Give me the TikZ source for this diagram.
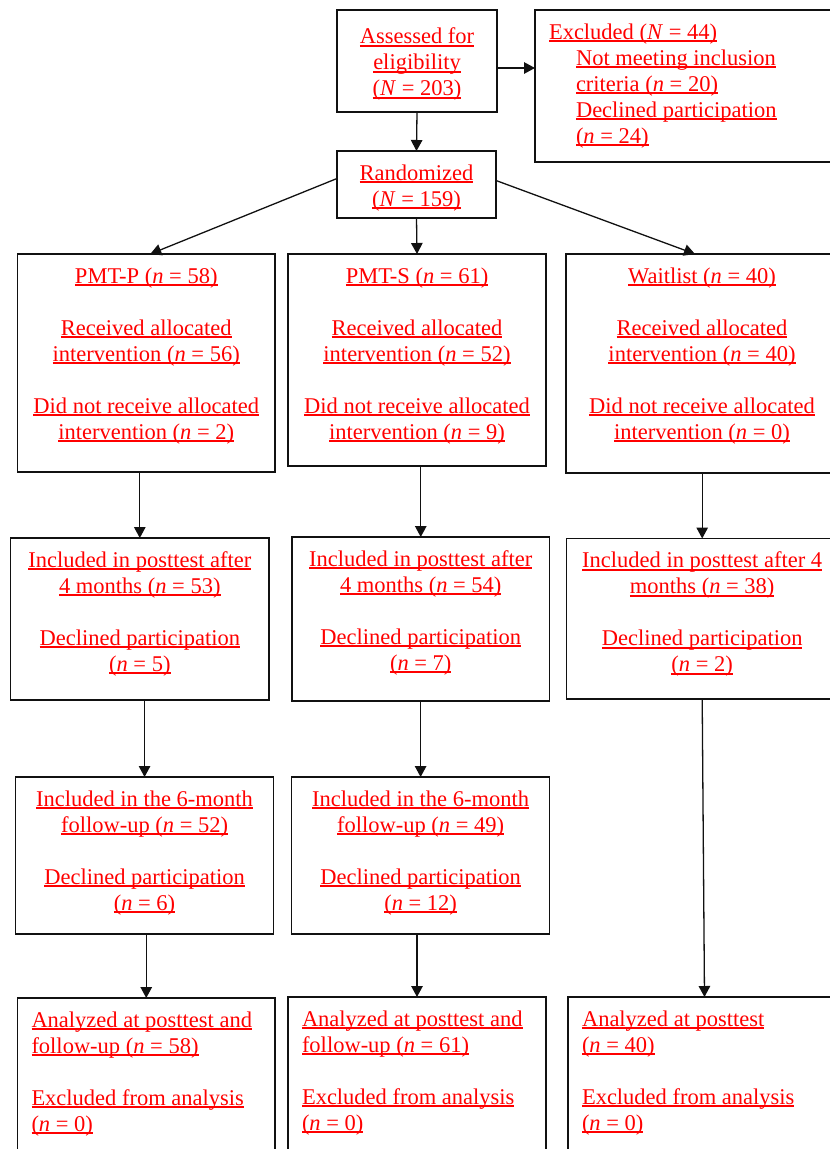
\documentclass[tikz,border=0pt]{standalone}
\usepackage{fontspec}
\setmainfont{Liberation Serif}
\usepackage{tikz}
\usetikzlibrary{arrows.meta,calc}
\usepackage{xcolor}
\definecolor{ink}{HTML}{111111}
\definecolor{txt}{HTML}{FF0000}
\newcommand{\tnr}{\fontsize{22.5}{26}\selectfont}
\newsavebox{\ulbox}
\newcommand{\ul}[1]{\leavevmode\sbox{\ulbox}{#1}\rlap{\rule[-3pt]{\wd\ulbox}{2pt}}\usebox{\ulbox}}
% width, height, top pad, lines
\newcommand{\midtext}[4]{\parbox[c][#2pt][t]{#1pt}{\centering\vspace*{#3pt}\strut#4}}
\newcommand{\lefttext}[3]{\parbox[c][#2pt][t]{#1pt}{\raggedright\leftskip=14pt\vspace*{10.8pt}\strut#3}}

\begin{document}
\begin{tikzpicture}[x=1pt,y=-1pt, every node/.style={text=txt, font=\tnr},
  box/.style={draw=ink, line width=1.3pt, inner sep=0pt, outer sep=0pt, anchor=north west},
  flow/.style={draw=ink, line width=1.3pt, -{Triangle[length=11pt,width=11.5pt]}}]
\useasboundingbox (0,0) rectangle (830,1149);
\clip (0,0) rectangle (830,1149);
% ---- TOP: eligibility, exclusions, randomization
\node[box] (assess) at (337,10) {\midtext{160}{102}{15.5}{\ul{Assessed for}\\ \ul{eligibility}\\ \ul{(\textit{N} = 203)}}};
\node[box] (excl) at (535,10) {\lefttext{310}{152}{\ul{Excluded (\textit{N} = 44)}\\
  \hspace*{27pt}\ul{Not meeting inclusion}\\ \hspace*{27pt}\ul{criteria (\textit{n} = 20)}\\
  \hspace*{27pt}\ul{Declined participation}\\ \hspace*{27pt}\ul{(\textit{n} = 24)}}};
\node[box] (rand) at (337,151) {\midtext{159}{67}{10.8}{\ul{Randomized}\\ \ul{(\textit{N} = 159)}}};
% ---- ALLOCATION
\node[box] (p1) at (17.5,254) {\midtext{257.5}{218}{10.8}{\ul{PMT-P (\textit{n} = 58)}\\[26pt]
  \ul{Received allocated}\\ \ul{intervention (\textit{n} = 56)}\\[26pt]
  \ul{Did not receive allocated}\\ \ul{intervention (\textit{n} = 2)}}};
\node[box] (s1) at (288,254) {\midtext{258}{212}{10.8}{\ul{PMT-S (\textit{n} = 61)}\\[26pt]
  \ul{Received allocated}\\ \ul{intervention (\textit{n} = 52)}\\[26pt]
  \ul{Did not receive allocated}\\ \ul{intervention (\textit{n} = 9)}}};
\node[box] (w1) at (566,254) {\midtext{272}{219}{10.8}{\ul{Waitlist (\textit{n} = 40)}\\[26pt]
  \ul{Received allocated}\\ \ul{intervention (\textit{n} = 40)}\\[26pt]
  \ul{Did not receive allocated}\\ \ul{intervention (\textit{n} = 0)}}};
% ---- POSTTEST
\node[box] (p2) at (10.6,538) {\midtext{258.4}{162}{10.8}{\ul{Included in posttest after}\\
  \ul{4 months (\textit{n} = 53)}\\[26pt] \ul{Declined participation}\\ \ul{(\textit{n} = 5)}}};
\node[box] (s2) at (292,537) {\midtext{257.5}{164}{10.8}{\ul{Included in posttest after}\\
  \ul{4 months (\textit{n} = 54)}\\[26pt] \ul{Declined participation}\\ \ul{(\textit{n} = 7)}}};
\node[box] (w2) at (566.7,538.5) {\midtext{271}{160.5}{10.8}{\ul{Included in posttest after 4}\\
  \ul{months (\textit{n} = 38)}\\[26pt] \ul{Declined participation}\\ \ul{(\textit{n} = 2)}}};
% ---- FOLLOW-UP
\node[box] (p3) at (15.4,777) {\midtext{258.3}{157}{10.8}{\ul{Included in the 6-month}\\
  \ul{follow-up (\textit{n} = 52)}\\[26pt] \ul{Declined participation}\\ \ul{(\textit{n} = 6)}}};
\node[box] (s3) at (291.7,777) {\midtext{257.8}{157}{10.8}{\ul{Included in the 6-month}\\
  \ul{follow-up (\textit{n} = 49)}\\[26pt] \ul{Declined participation}\\ \ul{(\textit{n} = 12)}}};
% ---- ANALYSIS (boxes run past the page foot)
\node[box] (p4) at (17.5,998) {\lefttext{257.5}{170}{\ul{Analyzed at posttest and}\\
  \ul{follow-up (\textit{n} = 58)}\\[26pt] \ul{Excluded from analysis}\\ \ul{(\textit{n} = 0)}}};
\node[box] (s4) at (288,997) {\lefttext{258}{170}{\ul{Analyzed at posttest and}\\
  \ul{follow-up (\textit{n} = 61)}\\[26pt] \ul{Excluded from analysis}\\ \ul{(\textit{n} = 0)}}};
\node[box] (w4) at (568,997) {\lefttext{273}{170}{\ul{Analyzed at posttest}\\
  \ul{(\textit{n} = 40)}\\[26pt] \ul{Excluded from analysis}\\ \ul{(\textit{n} = 0)}}};
% ---- CONNECTORS
\draw[flow] ([yshift=-7pt]assess.east) -- ([yshift=-7pt]assess.east -| excl.west);
\draw[flow] (assess.south) -- (rand.north);
\draw[flow] ([yshift=6pt]rand.west) -- ([xshift=4pt]p1.north);
\draw[flow] (rand.south) -- (s1.north);
\draw[flow] ([yshift=4pt]rand.east) -- ([xshift=-7pt]w1.north);
\draw[flow] (p1.south -| p2.north) -- (p2.north);
\draw[flow] (s1.south -| s2.north) -- (s2.north);
\draw[flow] (w1.south -| w2.north) -- (w2.north);
\draw[flow] (p2.south -| p3.north) -- (p3.north);
\draw[flow] (s2.south -| s3.north) -- (s3.north);
\draw[flow] (p3.south -| p4.north) -- (p4.north);
\draw[flow] (s3.south -| s4.north) -- (s4.north);
\draw[flow] (w2.south) -- (w4.north);
\end{tikzpicture}
\end{document}
